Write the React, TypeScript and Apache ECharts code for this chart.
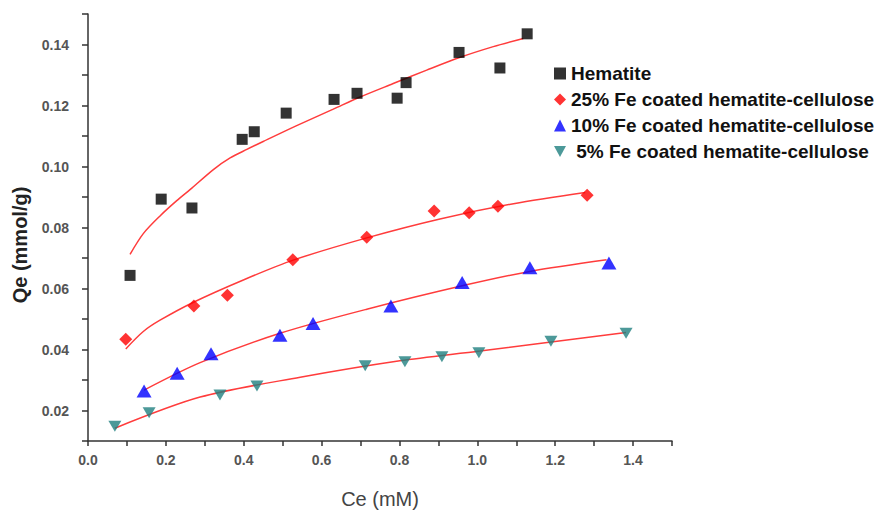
import React, { useEffect, useRef } from "react";
import * as echarts from "echarts";

const seriesNames = [
  "Hematite",
  "25% Fe coated hematite-cellulose",
  "10% Fe coated hematite-cellulose",
  " 5% Fe coated hematite-cellulose",
];

// Measured points
const hemX = [0.108, 0.188, 0.267, 0.396, 0.427, 0.509, 0.632, 0.691, 0.794, 0.817, 0.953, 1.058, 1.128];
const hemY = [0.0643, 0.0893, 0.0864, 0.1089, 0.1114, 0.1175, 0.122, 0.124, 0.1224, 0.1275, 0.1374, 0.1323, 0.1435];

const fe25X = [0.097, 0.272, 0.358, 0.526, 0.716, 0.889, 0.979, 1.053, 1.282];
const fe25Y = [0.0434, 0.0543, 0.0578, 0.0694, 0.0768, 0.0854, 0.0848, 0.087, 0.0906];

const fe10X = [0.144, 0.229, 0.316, 0.493, 0.578, 0.778, 0.961, 1.135, 1.338];
const fe10Y = [0.0264, 0.0322, 0.0386, 0.0447, 0.0485, 0.0543, 0.062, 0.0668, 0.0684];

const fe5X = [0.069, 0.157, 0.339, 0.434, 0.712, 0.814, 0.909, 1.004, 1.189, 1.382];
const fe5Y = [0.0148, 0.0193, 0.0251, 0.028, 0.0347, 0.036, 0.0376, 0.0389, 0.0427, 0.0453];

// Fitted curves
const hemFitX = [0.108, 0.142, 0.185, 0.228, 0.262, 0.322, 0.365, 0.408, 0.45, 0.536, 0.63, 0.699, 0.784, 0.87, 0.956, 1.041, 1.118];
const hemFitY = [0.0712, 0.078, 0.0838, 0.0888, 0.0924, 0.099, 0.1028, 0.1056, 0.1082, 0.1134, 0.1188, 0.1228, 0.1272, 0.1316, 0.1358, 0.1393, 0.142];

const fe25FitX = [0.097, 0.142, 0.185, 0.271, 0.399, 0.527, 0.716, 0.904, 1.093, 1.277];
const fe25FitY = [0.0402, 0.0459, 0.0496, 0.0555, 0.0628, 0.0693, 0.0766, 0.0828, 0.0878, 0.0915];

const fe10FitX = [0.144, 0.288, 0.493, 0.716, 0.972, 1.135, 1.332];
const fe10FitY = [0.0267, 0.0357, 0.0453, 0.0532, 0.0612, 0.0656, 0.0694];

const fe5FitX = [0.069, 0.288, 0.545, 0.801, 1.007, 1.382];
const fe5FitY = [0.0142, 0.0244, 0.0309, 0.0363, 0.0395, 0.0456];

const xTickLabels = ["0.0", "0.2", "0.4", "0.6", "0.8", "1.0", "1.2", "1.4"];
const yTickLabels = ["0.02", "0.04", "0.06", "0.08", "0.10", "0.12", "0.14"];

const pairs = (xs: number[], ys: number[]) => xs.map((x, i) => [x, ys[i]]);

const INV_TRI = "path://M0,0L10,0L5,9Z";
const FIT_COLOR = "#ff3c3c";
const FONT = "Liberation Sans, Arial, sans-serif";

export default function App() {
  const ref = useRef<HTMLDivElement>(null);
  useEffect(() => {
    if (!ref.current) return;
    const chart = echarts.init(ref.current, null, { renderer: "svg" });
    const fit = (xs: number[], ys: number[]) => ({
      type: "line",
      data: pairs(xs, ys),
      smooth: 0.3,
      showSymbol: false,
      symbol: "none",
      lineStyle: { color: FIT_COLOR, width: 1.5 },
      z: 2,
      silent: true,
    });
    chart.setOption({
      animation: false,
      backgroundColor: "#ffffff",
      grid: { left: 88, right: 210, top: 14, bottom: 64 },
      legend: {
        orient: "vertical",
        left: 549,
        top: 59,
        itemWidth: 12,
        itemHeight: 12,
        itemGap: 7,
        textStyle: { fontSize: 19, fontWeight: "bold", color: "#111", fontFamily: FONT },
        data: [
          { name: seriesNames[0], icon: "rect" },
          { name: seriesNames[1], icon: "diamond" },
          { name: seriesNames[2], icon: "triangle" },
          { name: seriesNames[3], icon: INV_TRI },
        ],
      },
      xAxis: {
        type: "value",
        min: 0,
        max: 1.5,
        interval: 0.1,
        name: "Ce (mM)",
        nameLocation: "middle",
        nameGap: 48,
        nameTextStyle: { fontSize: 20, color: "#444", fontFamily: FONT },
        splitLine: { show: false },
        axisLine: { lineStyle: { color: "#333", width: 1.5 } },
        axisTick: { length: 5, lineStyle: { color: "#333", width: 1.5 } },
        axisLabel: {
          margin: 12,
          fontSize: 14,
          fontWeight: "bold",
          color: "#555",
          fontFamily: FONT,
          formatter: (v: number) => {
            const s = v.toFixed(1);
            return xTickLabels.includes(s) ? s : "";
          },
        },
      },
      yAxis: {
        type: "value",
        min: 0.01,
        max: 0.15,
        interval: 0.01,
        splitLine: { show: false },
        axisLine: { lineStyle: { color: "#333", width: 1.5 } },
        axisTick: { length: 6, lineStyle: { color: "#333", width: 1.5 } },
        axisLabel: {
          margin: 19,
          fontSize: 14,
          fontWeight: "bold",
          color: "#555",
          fontFamily: FONT,
          formatter: (v: number) => {
            const s = v.toFixed(2);
            return yTickLabels.includes(s) ? s : "";
          },
        },
      },
      graphic: [
        {
          type: "text",
          x: 20,
          y: 245,
          rotation: Math.PI / 2,
          style: {
            text: "Qe (mmol/g)",
            fontSize: 20,
            fontWeight: "bold",
            fill: "#222",
            fontFamily: FONT,
            align: "center",
            verticalAlign: "middle",
          },
        },
      ],
      series: [
        fit(hemFitX, hemFitY),
        fit(fe25FitX, fe25FitY),
        fit(fe10FitX, fe10FitY),
        fit(fe5FitX, fe5FitY),
        {
          name: seriesNames[0],
          type: "scatter",
          data: pairs(hemX, hemY),
          symbol: "rect",
          symbolSize: 11,
          itemStyle: { color: "#000000" },
          z: 3,
        },
        {
          name: seriesNames[1],
          type: "scatter",
          data: pairs(fe25X, fe25Y),
          symbol: "diamond",
          symbolSize: 13,
          itemStyle: { color: "#ff0000" },
          z: 3,
        },
        {
          name: seriesNames[2],
          type: "scatter",
          data: pairs(fe10X, fe10Y),
          symbol: "triangle",
          symbolSize: [15, 13],
          itemStyle: { color: "#0000ff" },
          z: 3,
        },
        {
          name: seriesNames[3],
          type: "scatter",
          data: pairs(fe5X, fe5Y),
          symbol: INV_TRI,
          symbolSize: [13, 11],
          itemStyle: { color: "#1f8080" },
          z: 3,
        },
      ],
    });
    return () => chart.dispose();
  }, []);
  return (
    <div
      ref={ref}
      style={{ position: "fixed", left: 0, top: 0, width: 882, height: 514, background: "#fff" }}
    />
  );
}
